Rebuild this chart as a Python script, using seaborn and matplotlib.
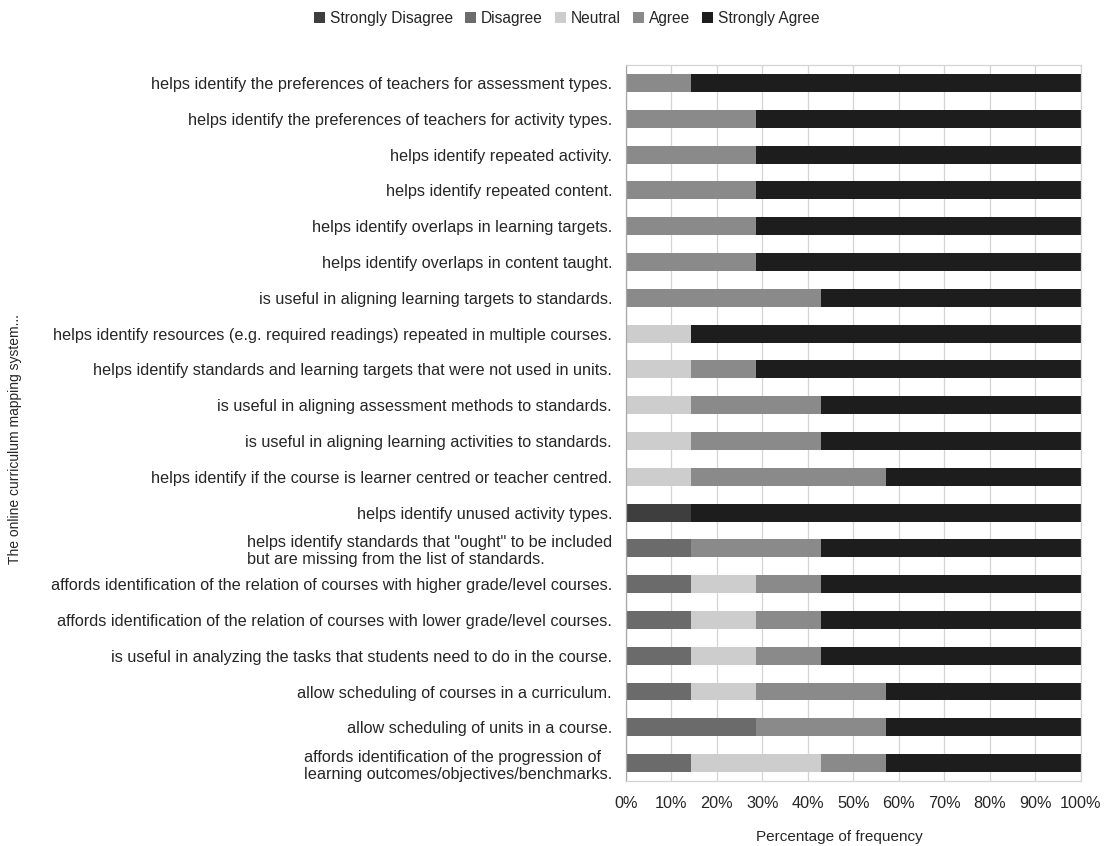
import numpy as np
import pandas as pd
import matplotlib
matplotlib.use("Agg")
import matplotlib.pyplot as plt
import seaborn as sns
from matplotlib.patches import Patch

# Survey statements (top to bottom)
statements = [
    "helps identify the preferences of teachers for assessment types.",
    "helps identify the preferences of teachers for activity types.",
    "helps identify repeated activity.",
    "helps identify repeated content.",
    "helps identify overlaps in learning targets.",
    "helps identify overlaps in content taught.",
    "is useful in aligning learning targets to standards.",
    "helps identify resources (e.g. required readings) repeated in multiple courses.",
    "helps identify standards and learning targets that were not used in units.",
    "is useful in aligning assessment methods to standards.",
    "is useful in aligning learning activities to standards.",
    "helps identify if the course is learner centred or teacher centred.",
    "helps identify unused activity types.",
    "helps identify standards that \"ought\" to be included\nbut are missing from the list of standards.",
    "affords identification of the relation of courses with higher grade/level courses.",
    "affords identification of the relation of courses with lower grade/level courses.",
    "is useful in analyzing the tasks that students need to do in the course.",
    "allow scheduling of courses in a curriculum.",
    "allow scheduling of units in a course.",
    "affords identification of the progression of\nlearning outcomes/objectives/benchmarks.",
]

levels = ["Strongly Disagree", "Disagree", "Neutral", "Agree", "Strongly Agree"]

# Percentage of responses per level, one list per level (same order as statements)
strongly_disagree = [0, 0, 0, 0, 0, 0, 0, 0, 0, 0, 0, 0, 14.29, 0, 0, 0, 0, 0, 0, 0]
disagree = [0, 0, 0, 0, 0, 0, 0, 0, 0, 0, 0, 0, 0, 14.29, 14.29, 14.29, 14.29, 14.29, 28.57, 14.29]
neutral = [0, 0, 0, 0, 0, 0, 0, 14.29, 14.29, 14.29, 14.29, 14.29, 0, 0, 14.29, 14.29, 14.29, 14.29, 0, 28.57]
agree = [14.29, 28.57, 28.57, 28.57, 28.57, 28.57, 42.86, 0, 14.29, 28.57, 28.57, 42.86, 0, 28.57, 14.29, 14.29, 14.29, 28.57, 28.57, 14.29]
strongly_agree = [85.71, 71.43, 71.43, 71.43, 71.43, 71.43, 57.14, 85.71, 71.43, 57.14, 57.14, 42.86, 85.71, 57.14, 57.14, 57.14, 57.14, 42.86, 42.86, 42.86]

colors = ["#3e3e3e", "#6b6b6b", "#cdcdcd", "#8a8a8a", "#1d1d1d"]

sns.set_style("white")
plt.rcParams["font.family"] = ["Liberation Sans", "DejaVu Sans"]

df = pd.DataFrame({
    "statement": statements,
    "Strongly Disagree": strongly_disagree,
    "Disagree": disagree,
    "Neutral": neutral,
    "Agree": agree,
    "Strongly Agree": strongly_agree,
})

# Cumulative right edges for each stacked segment
cum = df[levels].cumsum(axis=1)

fig = plt.figure(figsize=(11.05, 8.46), dpi=100)
ax = fig.add_axes([0.5665, 0.0768, 0.4115, 0.8462])

ax.set_axisbelow(True)
ax.xaxis.grid(True, color="#d4d4d4", linewidth=0.9)

# Draw from the widest cumulative layer down so each segment shows its own colour
for lvl, col in reversed(list(zip(levels, colors))):
    sns.barplot(x=cum[lvl], y=df["statement"], orient="h", color=col,
                width=0.5, linewidth=0, ax=ax, order=statements)

ax.set_xlim(0, 100)
ax.set_ylim(len(statements) - 0.5, -0.5)
ax.set_xticks(np.arange(0, 101, 10))
ax.set_xticklabels([f"{v}%" for v in range(0, 101, 10)], fontsize=11.7)
ax.set_yticks(np.arange(len(statements)))
ax.set_yticklabels(statements, fontsize=11.7, multialignment="left")
ax.set_yticks(np.arange(-0.5, len(statements)), minor=True)
ax.tick_params(axis="y", which="major", length=0, pad=10)
ax.tick_params(axis="y", which="minor", length=5, color="#b8b8b8", direction="out")
ax.tick_params(axis="x", which="major", length=4, color="#b8b8b8", direction="out", pad=7)

for side in ["top", "right", "bottom"]:
    ax.spines[side].set_color("#d4d4d4")
    ax.spines[side].set_linewidth(0.9)
ax.spines["left"].set_color("#a8a8a8")
ax.spines["left"].set_linewidth(0.9)

ax.set_xlabel("")
ax.set_ylabel("")
fig.text(0.760, 0.011, "Percentage of frequency", ha="center", va="center", fontsize=11)
fig.text(0.014, 0.481, "The online curriculum mapping system...", rotation=90,
         va="center", ha="center", fontsize=10)

handles = [Patch(facecolor=c, edgecolor="none", label=l) for l, c in zip(levels, colors)]
fig.legend(handles=handles, loc="center", bbox_to_anchor=(0.513, 0.978), ncol=5,
           frameon=False, fontsize=11.2, handlelength=0.7, handleheight=0.7,
           handletextpad=0.3, columnspacing=0.8)

fig.savefig("out.png", dpi=100)
